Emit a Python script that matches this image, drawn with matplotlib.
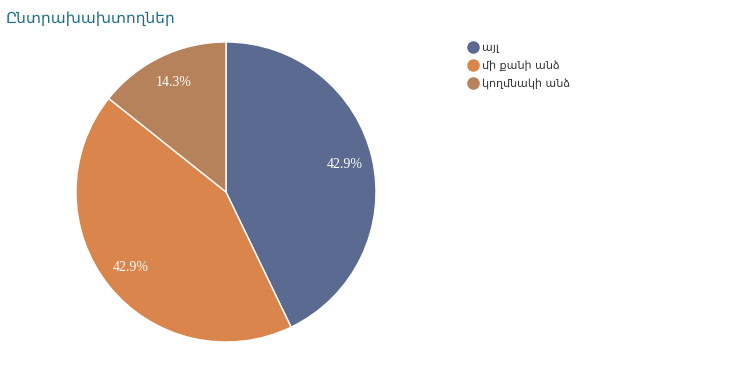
import matplotlib.pyplot as plt
from matplotlib.lines import Line2D

# data
labels = ['այլ', 'մի քանի անձ', 'կողմնակի անձ']
counts = [3, 3, 1]
colors = ['#5b6a91', '#d9854b', '#b5825c']

fig = plt.figure(figsize=(7.45, 3.7), dpi=100)
ax = fig.add_axes([0.102, 0.0757, 0.4027, 0.8108])

wedges, texts, autotexts = ax.pie(
    counts, colors=colors, startangle=90, counterclock=False,
    autopct='%1.1f%%', pctdistance=0.81,
    wedgeprops=dict(edgecolor='white', linewidth=1),
    textprops=dict(color='white', fontsize=10, family='Liberation Serif'))
ax.set_aspect('equal')
ax.set_xlim(-1, 1)
ax.set_ylim(-1, 1)

fig.text(0.007, 0.95, 'Ընտրախախտողներ', fontsize=11.1, color='#1f6f8b',
         family='DejaVu Sans', va='center', ha='left')

handles = [Line2D([], [], marker='o', linestyle='', markersize=8,
                  markerfacecolor=c, markeredgecolor=c) for c in colors]
fig.legend(handles, labels, loc='upper left', bbox_to_anchor=(0.622, 0.897),
           frameon=False, fontsize=8, handletextpad=0.3, labelspacing=0.66,
           handlelength=1.0, borderaxespad=0, labelcolor='#333333')

fig.savefig('out.png', dpi=100)
